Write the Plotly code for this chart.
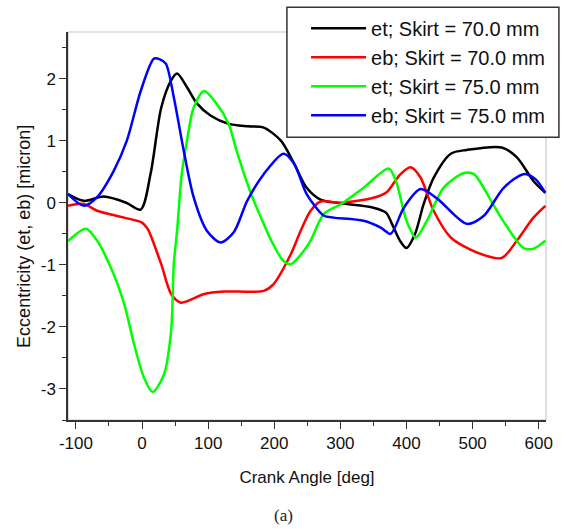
import plotly.graph_objects as go

# ---- data ----
et70_x = [-112, -88, -58, -24, -2, 13, 29, 44, 53, 68, 83, 104, 131, 160, 184, 210, 230, 249, 270, 301,
          350, 369, 378, 390, 400, 413, 426, 441, 467, 491, 544, 567, 592, 610]
et70_y = [0.14, 0.03, 0.10, 0.00, -0.11, 0.47, 1.53, 1.97, 2.08, 1.86, 1.60, 1.40, 1.27, 1.23, 1.21, 1.00,
          0.63, 0.24, 0.05, -0.01, -0.08, -0.16, -0.34, -0.61, -0.73, -0.50, -0.02, 0.40, 0.79, 0.85,
          0.89, 0.73, 0.35, 0.16]

eb70_x = [-112, -88, -68, -47, -27, 0, 7, 10, 29, 44, 59, 94, 124, 184, 199, 225, 240, 255, 270, 301,
          350, 370, 390, 406, 421, 441, 467, 506, 544, 567, 592, 610]
eb70_y = [-0.05, -0.02, -0.13, -0.19, -0.24, -0.32, -0.40, -0.45, -0.99, -1.47, -1.61, -1.47, -1.43,
          -1.42, -1.31, -0.83, -0.45, -0.13, 0.02, 0.00, 0.08, 0.17, 0.45, 0.57, 0.41, -0.13, -0.56,
          -0.80, -0.89, -0.61, -0.24, -0.05]

et75_x = [-112, -85, -68, -43, -27, -12, 3, 16, 33, 44, 48, 53, 60, 68, 78, 94, 113, 131, 143, 165, 184,
          195, 214, 225, 245, 255, 275, 301, 335, 373, 384, 400, 414, 431, 456, 487, 502, 528, 543, 577,
          592, 610]
et75_y = [-0.62, -0.42, -0.61, -1.15, -1.63, -2.28, -2.82, -3.05, -2.77, -2.06, -0.99, -0.45, 0.46, 1.00,
          1.53, 1.80, 1.59, 1.27, 0.84, 0.14, -0.34, -0.60, -0.94, -0.99, -0.77, -0.61, -0.18, -0.02,
          0.24, 0.55, 0.35, -0.29, -0.56, -0.29, 0.24, 0.48, 0.46, 0.03, -0.24, -0.73, -0.74, -0.61]

eb75_x = [-112, -88, -68, -43, -23, -2, 18, 27, 36, 48, 63, 78, 98, 119, 139, 159, 184, 214, 230, 249,
          275, 290, 335, 361, 376, 396, 421, 446, 491, 517, 547, 577, 595, 610]
eb75_y = [0.14, -0.05, 0.09, 0.51, 1.00, 1.80, 2.32, 2.31, 2.24, 1.70, 0.84, 0.09, -0.45, -0.64, -0.47,
          0.03, 0.46, 0.79, 0.63, 0.14, -0.21, -0.24, -0.29, -0.40, -0.50, -0.08, 0.22, 0.07, -0.34,
          -0.21, 0.24, 0.46, 0.38, 0.16]

series_names = ["et; Skirt = 70.0 mm", "eb; Skirt = 70.0 mm", "et; Skirt = 75.0 mm", "eb; Skirt = 75.0 mm"]
series_colors = ["#000000", "#ff0000", "#00ff00", "#0000ff"]

x_tick_vals = [-100, 0, 100, 200, 300, 400, 500, 600]
x_tick_text = ["-100", "0", "100", "200", "300", "400", "500", "600"]
y_tick_vals = [-3, -2, -1, 0, 1, 2]
y_tick_text = ["-3", "-2", "-1", "0", "1", "2"]

FONT = "Liberation Sans, Arial, sans-serif"

fig = go.Figure()
for xs, ys, name, col in zip([et70_x, eb70_x, et75_x, eb75_x],
                             [et70_y, eb70_y, et75_y, eb75_y],
                             series_names, series_colors):
    fig.add_trace(go.Scatter(x=xs, y=ys, mode="lines", name=name,
                             line=dict(color=col, width=2.5, shape="spline", smoothing=0.8)))

axis_common = dict(showgrid=False, zeroline=False, showline=True, linecolor="#333333", linewidth=1.5,
                   ticks="outside", ticklen=7, tickwidth=1.3, tickcolor="#333333", automargin=False,
                   tickfont=dict(family=FONT, size=17, color="#111111"))

fig.update_xaxes(range=[-112, 611], tickvals=x_tick_vals, ticktext=x_tick_text,
                 minor=dict(dtick=50, tick0=0, ticks="outside", ticklen=4, tickcolor="#333333", tickwidth=1.3),
                 title=dict(text="Crank Angle [deg]", font=dict(family=FONT, size=17, color="#111111"), standoff=19),
                 **axis_common)
fig.update_yaxes(range=[-3.5, 2.75], tickvals=y_tick_vals, ticktext=y_tick_text,
                 minor=dict(dtick=0.5, tick0=0, ticks="outside", ticklen=4, tickcolor="#333333", tickwidth=1.3),
                 **axis_common)

# y-axis title (placed slightly below the axis centre, as in the reference)
fig.add_annotation(text="Eccentricity (et, eb) [micron]", xref="paper", yref="paper",
                   x=-0.092, y=0.472, xanchor="center", yanchor="middle", textangle=-90, showarrow=False,
                   font=dict(family=FONT, size=18, color="#111111"))

# light grey frame (top / right)
fig.add_shape(type="rect", xref="x domain", yref="y domain", x0=0, x1=1, y0=0, y1=1,
              line=dict(color="#c8c8c8", width=1.2), layer="below")

# legend box
fig.add_shape(type="rect", xref="paper", yref="paper", x0=0.458, x1=1.027, y0=0.729, y1=1.064,
              line=dict(color="#333333", width=1.5), fillcolor="white", layer="above")

fig.add_annotation(text="(a)", xref="paper", yref="paper", x=0.45, y=-0.276, showarrow=False,
                   font=dict(family="Liberation Serif, Times New Roman, serif", size=17, color="#222222"))

fig.update_layout(
    width=566, height=529,
    margin=dict(l=68, r=20, t=32, b=109, autoexpand=False),
    paper_bgcolor="white", plot_bgcolor="white",
    showlegend=True,
    legend=dict(x=0.498, y=1.060, xanchor="left", yanchor="top",
                bgcolor="rgba(0,0,0,0)", borderwidth=0,
                font=dict(family=FONT, size=20, color="#111111"),
                itemwidth=55),
)

fig.write_html("out.html", config={"displayModeBar": False},
               post_script="document.body.style.margin='0';document.body.style.overflow='hidden';")
